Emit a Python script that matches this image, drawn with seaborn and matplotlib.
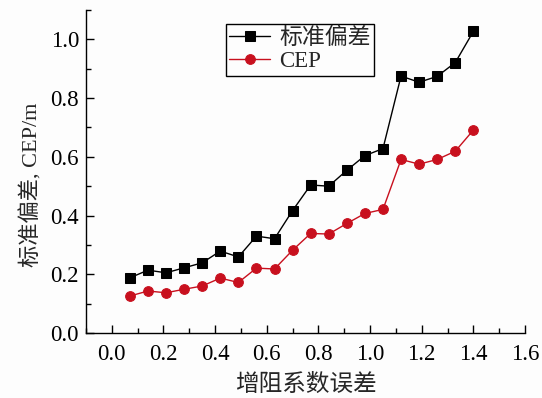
import matplotlib
matplotlib.use("Agg")
import matplotlib.pyplot as plt
from matplotlib.ticker import MultipleLocator
import seaborn as sns
import numpy as np
import pandas as pd

x_vals = [0.07, 0.14, 0.21, 0.28, 0.35, 0.42, 0.49, 0.56, 0.63, 0.70,
          0.77, 0.84, 0.91, 0.98, 1.05, 1.12, 1.19, 1.26, 1.33, 1.40]
std_vals = [0.188, 0.214, 0.205, 0.222, 0.239, 0.279, 0.259, 0.330, 0.321, 0.417,
            0.504, 0.500, 0.554, 0.604, 0.628, 0.875, 0.854, 0.874, 0.921, 1.027]
cep_vals = [0.126, 0.143, 0.137, 0.149, 0.160, 0.187, 0.172, 0.221, 0.218, 0.282,
            0.339, 0.337, 0.373, 0.407, 0.421, 0.591, 0.575, 0.591, 0.619, 0.691]
series_names = ["标准偏差", "CEP"]
x_ticks = [0.0, 0.2, 0.4, 0.6, 0.8, 1.0, 1.2, 1.4, 1.6]
y_ticks = [0.0, 0.2, 0.4, 0.6, 0.8, 1.0]
x_label = "增阻系数误差"
y_label = "标准偏差, CEP/m"

sns.set_theme(style="ticks")
plt.rcParams['font.family'] = ['Liberation Serif', 'Noto Sans CJK SC', 'DejaVu Sans']
plt.rcParams['axes.unicode_minus'] = False

fig = plt.figure(figsize=(5.42, 3.98), dpi=100)
fig.patch.set_facecolor("#fdfdfd")
ax = fig.add_axes([86/542, 1-333/398, (525-86)/542, (333-10)/398])
ax.set_facecolor("#fdfdfd")

df_std = pd.DataFrame({"x": x_vals, "y": std_vals})
df_cep = pd.DataFrame({"x": x_vals, "y": cep_vals})

sns.lineplot(data=df_std, x="x", y="y", ax=ax, color="black", marker="s",
             markersize=6.5, markeredgecolor="black", linewidth=1.0,
             label=series_names[0])
sns.lineplot(data=df_cep, x="x", y="y", ax=ax, color="#c8101e", marker="o",
             markersize=7, markeredgecolor="#c8101e", linewidth=1.0,
             label=series_names[1])

ax.set_xlim(-0.1, 1.6)
ax.set_ylim(0, 1.1)
ax.set_xticks(x_ticks)
ax.set_xticklabels([f"{v:.1f}" for v in x_ticks])
ax.set_yticks(y_ticks)
ax.set_yticklabels([f"{v:.1f}" for v in y_ticks])
ax.xaxis.set_minor_locator(MultipleLocator(0.1))
ax.yaxis.set_minor_locator(MultipleLocator(0.1))

ax.tick_params(axis="both", which="major", direction="in", length=6, width=1,
               labelsize=16.5, colors="black")
ax.tick_params(axis="x", which="major", pad=8)
ax.tick_params(axis="y", which="major", pad=5)
ax.tick_params(axis="both", which="minor", direction="in", length=3.5, width=1,
               color="black")
for s in ["top", "right"]:
    ax.spines[s].set_visible(False)
for s in ["left", "bottom"]:
    ax.spines[s].set_linewidth(1.0)
    ax.spines[s].set_color("black")

ax.set_xlabel(x_label, fontsize=17, labelpad=6)
ax.set_ylabel(y_label, fontsize=16)
ax.yaxis.set_label_coords(-0.10, 0.46)

leg = ax.legend(loc="upper left", bbox_to_anchor=((225.7-86)/439, (333-24)/323),
                borderaxespad=0, fontsize=16.5, frameon=True, fancybox=False,
                edgecolor="black", handlelength=1.8, handletextpad=0.4,
                borderpad=0.15, labelspacing=0.1)
leg.get_frame().set_linewidth(1.0)
leg.get_frame().set_facecolor("#fdfdfd")
leg.get_frame().set_alpha(1.0)

fig.savefig("out.png", dpi=100, facecolor=fig.get_facecolor())
